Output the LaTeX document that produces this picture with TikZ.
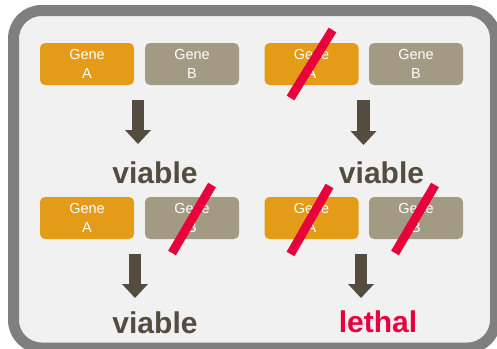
\documentclass[tikz,border=0pt]{standalone}
\usepackage{fontspec}
\setmainfont{Liberation Sans}
\usetikzlibrary{arrows.meta}
\definecolor{geneA}{HTML}{E49B17}
\definecolor{geneB}{HTML}{A29A83}
\definecolor{darkarrow}{HTML}{544D3F}
\definecolor{knockred}{HTML}{E8003D}
\definecolor{framegray}{HTML}{7F7F7F}
\definecolor{panel}{HTML}{F1F1F1}
\begin{document}
\begin{tikzpicture}[x=1pt,y=-1pt,
	gene/.style={rounded corners=5pt,minimum width=94pt,minimum height=42pt,inner sep=0pt,
		text=white,align=center,font=\fontsize{14.5}{19}\selectfont},
	genea/.style={gene,fill=geneA},
	geneb/.style={gene,fill=geneB},
	knock/.style={draw=knockred,line width=9pt},
	blk/.style={draw=darkarrow,line width=12.5pt,
		-{Triangle[width=26pt,length=14pt,line width=0pt]}},
	outcome/.style={anchor=base,inner sep=0pt,text=darkarrow,font=\fontsize{30}{30}\selectfont\bfseries}]
	\useasboundingbox (0,0) rectangle (497,348);
	\clip (0,0) rectangle (497,348);
	\def\up{64}
	\def\dn{218}
	% frame
	\draw[draw=framegray,fill=panel,line width=11pt,rounded corners=28pt] (13.5,10.5) rectangle (495.5,348);
	% the four cases
	\node[genea] (a1) at (87,\up) {Gene\\A};
	\node[geneb] (b1) at (192,\up) {Gene\\B};
	\node[genea] (a2) at (311.5,\up) {Gene\\A};
	\node[geneb] (b2) at (416,\up) {Gene\\B};
	\node[genea] (a3) at (87,\dn) {Gene\\A};
	\node[geneb] (b3) at (192,\dn) {Gene\\B};
	\node[genea] (a4) at (311.5,\dn) {Gene\\A};
	\node[geneb] (b4) at (416,\dn) {Gene\\B};
	\draw[knock] ([shift={(-21,34)}]a2.center) -- ([shift={(21,-34)}]a2.center);
	\draw[knock] ([shift={(-20,35)}]b3.center) -- ([shift={(20,-33)}]b3.center);
	\draw[knock] ([shift={(-21,36)}]a4.center) -- ([shift={(18,-32)}]a4.center);
	\draw[knock] ([shift={(-21,35)}]b4.center) -- ([shift={(19,-33)}]b4.center);
	% outcomes
	\node[outcome] (o1) at (155,183) {viable};
	\node[outcome] (o2) at (381.5,183) {viable};
	\node[outcome] (o3) at (155,333) {viable};
	\node[outcome,text=knockred] (o4) at (378,332) {lethal};
	\coordinate (s1) at (138,100);   \coordinate (t1) at (138,144);
	\coordinate (s2) at (363.5,100); \coordinate (t2) at (363.5,145);
	\coordinate (s3) at (135,254);   \coordinate (t3) at (135,298);
	\coordinate (s4) at (361,254);   \coordinate (t4) at (361,298);
	\foreach \i in {1,...,4}
		\draw[blk] (s\i) -- (t\i);
\end{tikzpicture}
\end{document}
